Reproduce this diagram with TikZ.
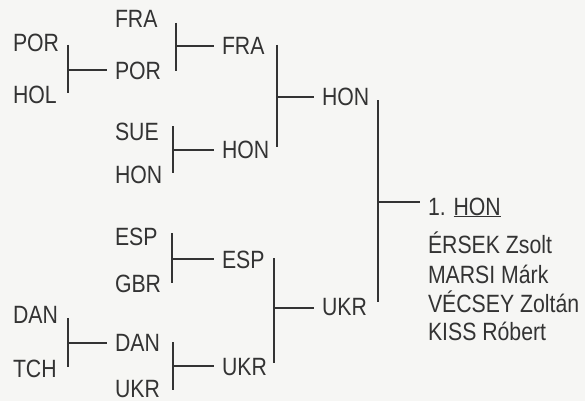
\documentclass[tikz,border=0pt]{standalone}
\usepackage{fontspec}
\setmainfont{Liberation Sans}[FakeStretch=0.85]
\definecolor{ink}{HTML}{333333}
\definecolor{paper}{HTML}{F6F6F4}
\begin{document}
\begin{tikzpicture}[x=1pt,y=-1pt,
  team/.style={anchor=base west,inner xsep=8pt,inner ysep=0pt,outer sep=0pt,text=ink,
    font=\fontsize{25}{30}\selectfont},
  bar/.style={draw=ink,line width=1.6pt}]
\fill[paper] (0,0) rectangle (585,401);
\useasboundingbox (0,0) rectangle (585,401);
% round 1
\node[team] (por1) at (5,52) {POR};
\node[team] (hol) at (5,103) {HOL};
\node[team] (dan1) at (5,323) {DAN};
\node[team] (tch) at (5,377) {TCH};
% quarter
\node[team] (fra1) at (107,28) {FRA};
\node[team] (por2) at (107,80) {POR};
\node[team] (sue) at (107,140) {SUE};
\node[team] (hon1) at (107,183) {HON};
\node[team] (esp1) at (107,245) {ESP};
\node[team] (gbr) at (107,292) {GBR};
\node[team] (dan2) at (107,351) {DAN};
\node[team] (ukr1) at (107,397) {UKR};
% semi
\node[team] (fra2) at (214,55) {FRA};
\node[team] (hon2) at (214,158) {HON};
\node[team] (esp2) at (214,268) {ESP};
\node[team] (ukr2) at (214,375) {UKR};
% final
\node[team] (hon3) at (314,105) {HON};
\node[team] (ukr3) at (314,315) {UKR};
% champion
\node[team] (champ) at (420,215) {1. \underline{HON}};
\node[team] (n1) at (420,253) {ÉRSEK Zsolt};
\node[team] (n2) at (420,283) {MARSI Márk};
\node[team] (n3) at (420,312) {VÉCSEY Zoltán};
\node[team] (n4) at (420,340) {KISS Róbert};
% brackets
\coordinate (b1t) at (68,45);  \coordinate (b1b) at (68,93);  \coordinate (b1m) at (68,70);
\coordinate (b2t) at (176,23); \coordinate (b2b) at (176,71); \coordinate (b2m) at (176,46);
\coordinate (b3t) at (173,126);\coordinate (b3b) at (173,173);\coordinate (b3m) at (173,150);
\coordinate (b4t) at (277,45); \coordinate (b4b) at (277,147);\coordinate (b4m) at (277,97);
\coordinate (b5t) at (172,233);\coordinate (b5b) at (172,283);\coordinate (b5m) at (172,259);
\coordinate (b6t) at (68,318); \coordinate (b6b) at (68,367); \coordinate (b6m) at (68,343);
\coordinate (b7t) at (173,342);\coordinate (b7b) at (173,390);\coordinate (b7m) at (173,366);
\coordinate (b8t) at (274,258);\coordinate (b8b) at (274,363);\coordinate (b8m) at (274,308);
\coordinate (b9t) at (378,100);\coordinate (b9b) at (378,302);\coordinate (b9m) at (378,202);
\draw[bar] (b1t) -- (b1b); \draw[bar] (b1m) -- (b1m -| por2.west);
\draw[bar] (b2t) -- (b2b); \draw[bar] (b2m) -- (b2m -| fra2.west);
\draw[bar] (b3t) -- (b3b); \draw[bar] (b3m) -- (b3m -| hon2.west);
\draw[bar] (b4t) -- (b4b); \draw[bar] (b4m) -- (b4m -| hon3.west);
\draw[bar] (b5t) -- (b5b); \draw[bar] (b5m) -- (b5m -| esp2.west);
\draw[bar] (b6t) -- (b6b); \draw[bar] (b6m) -- (b6m -| dan2.west);
\draw[bar] (b7t) -- (b7b); \draw[bar] (b7m) -- (b7m -| ukr2.west);
\draw[bar] (b8t) -- (b8b); \draw[bar] (b8m) -- (b8m -| ukr3.west);
\draw[bar] (b9t) -- (b9b); \draw[bar] (b9m) -- (b9m -| champ.west);
\end{tikzpicture}
\end{document}
